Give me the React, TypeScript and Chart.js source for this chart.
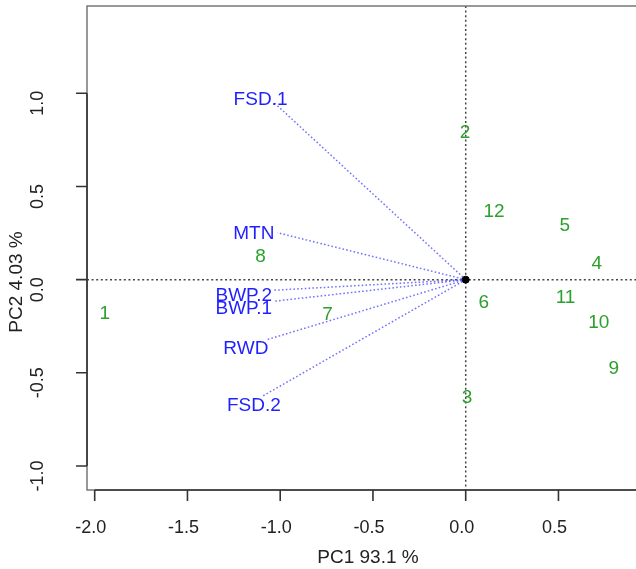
import React, { useEffect, useRef } from 'react';
import { Chart, registerables } from 'chart.js';
Chart.register(...registerables);

// Observations (scores)
const obsLabels = ['1', '2', '3', '4', '5', '6', '7', '8', '9', '10', '11', '12'];
const obsPC1 = [-1.945, -0.004, 0.007, 0.706, 0.534, 0.098, -0.745, -1.106, 0.798, 0.717, 0.538, 0.153];
const obsPC2 = [-0.177, 0.793, -0.627, 0.091, 0.295, -0.118, -0.182, 0.129, -0.471, -0.225, -0.091, 0.37];

// Variables (loadings)
const varLabels = ['FSD.1', 'MTN', 'BWP.2', 'BWP.1', 'RWD', 'FSD.2'];
const varTipX = [-1.031, -1.015, -1.04, -1.035, -1.068, -1.095];
const varTipY = [0.948, 0.252, -0.057, -0.116, -0.321, -0.625];
const varLabelX = [-1.106, -1.142, -1.196, -1.196, -1.185, -1.142];
const varLabelY = [0.969, 0.252, -0.08, -0.15, -0.366, -0.672];

const xTicks = [-2.0, -1.5, -1.0, -0.5, 0.0, 0.5];
const yTicks = [-1.0, -0.5, 0.0, 0.5, 1.0];
const xTitle = 'PC1 93.1 %';
const yTitle = 'PC2 4.03 %';

const FONT = '"Liberation Sans", Arial, Helvetica, sans-serif';
const GREEN = '#2ca02c';
const BLUE = '#1f1fff';
const ARROW = 'rgba(90,90,255,0.85)';

const customPlugin = {
  id: 'biplotDecor',
  beforeDraw(chart: any) {
    const ctx = chart.ctx;
    ctx.save();
    ctx.fillStyle = '#ffffff';
    ctx.fillRect(0, 0, chart.width, chart.height);
    ctx.restore();
  },
  beforeDatasetsDraw(chart: any) {
    const ctx = chart.ctx;
    const a = chart.chartArea;
    const xs = chart.scales.x;
    const ys = chart.scales.y;
    ctx.save();
    // reference dotted lines
    ctx.strokeStyle = '#444';
    ctx.lineWidth = 1.5;
    ctx.setLineDash([2, 2.6]);
    const x0 = xs.getPixelForValue(0);
    const y0 = ys.getPixelForValue(0);
    ctx.beginPath();
    ctx.moveTo(x0, a.top);
    ctx.lineTo(x0, a.bottom);
    ctx.moveTo(a.left, y0);
    ctx.lineTo(a.right, y0);
    ctx.stroke();
    ctx.setLineDash([]);
    // box
    ctx.strokeStyle = '#777';
    ctx.lineWidth = 1.5;
    ctx.beginPath();
    ctx.moveTo(a.right + 20, a.top);
    ctx.lineTo(a.left, a.top);
    ctx.lineTo(a.left, a.bottom);
    ctx.lineTo(a.right + 20, a.bottom);
    ctx.stroke();
    // axis lines and ticks
    ctx.strokeStyle = '#333';
    ctx.lineWidth = 1.6;
    const xp = xTicks.map((v) => xs.getPixelForValue(v));
    const yp = yTicks.map((v) => ys.getPixelForValue(v));
    ctx.beginPath();
    ctx.moveTo(xp[0], a.bottom);
    ctx.lineTo(a.right, a.bottom);
    xp.forEach((p) => {
      ctx.moveTo(p, a.bottom);
      ctx.lineTo(p, a.bottom + 11);
    });
    ctx.moveTo(a.left, yp[0]);
    ctx.lineTo(a.left, yp[yp.length - 1]);
    yp.forEach((p) => {
      ctx.moveTo(a.left, p);
      ctx.lineTo(a.left - 11, p);
    });
    ctx.stroke();
    // tick labels
    ctx.fillStyle = '#222';
    ctx.font = `18px ${FONT}`;
    ctx.textAlign = 'center';
    ctx.textBaseline = 'middle';
    xTicks.forEach((v, i) => {
      ctx.fillText(v.toFixed(1), xp[i] - 4, 528);
    });
    yTicks.forEach((v, i) => {
      ctx.save();
      ctx.translate(38, yp[i] + 10);
      ctx.rotate(-Math.PI / 2);
      ctx.fillText(v.toFixed(1), 0, 0);
      ctx.restore();
    });
    // axis titles
    ctx.font = `19px ${FONT}`;
    ctx.fillText(xTitle, 368, 558);
    ctx.save();
    ctx.translate(17, 282);
    ctx.rotate(-Math.PI / 2);
    ctx.fillText(yTitle, 0, 0);
    ctx.restore();
    ctx.restore();
  },
  afterDatasetsDraw(chart: any) {
    const ctx = chart.ctx;
    ctx.save();
    ctx.font = `19px ${FONT}`;
    ctx.textAlign = 'center';
    ctx.textBaseline = 'middle';
    // observation labels
    const obsMeta = chart.getDatasetMeta(1);
    ctx.fillStyle = GREEN;
    obsMeta.data.forEach((pt: any, i: number) => {
      ctx.fillText(obsLabels[i], pt.x, pt.y + 1);
    });
    // variable labels
    const labMeta = chart.getDatasetMeta(2);
    ctx.fillStyle = BLUE;
    labMeta.data.forEach((pt: any, i: number) => {
      ctx.fillText(varLabels[i], pt.x, pt.y + 1);
    });
    ctx.restore();
  },
};

export default function App() {
  const ref = useRef<HTMLCanvasElement | null>(null);
  useEffect(() => {
    document.body.style.margin = '0';
    const canvas = ref.current;
    if (!canvas) return;
    const datasets: any[] = [
      {
        label: 'origin',
        data: [{ x: 0, y: 0 }],
        pointRadius: 3.5,
        pointBackgroundColor: '#000',
        pointBorderColor: '#000',
        showLine: false,
        clip: false,
      },
      {
        label: 'obs',
        data: obsPC1.map((x, i) => ({ x, y: obsPC2[i] })),
        pointRadius: 0,
        showLine: false,
      },
      {
        label: 'varLabels',
        data: varLabelX.map((x, i) => ({ x, y: varLabelY[i] })),
        pointRadius: 0,
        showLine: false,
      },
    ];
    varLabels.forEach((name, i) => {
      datasets.push({
        label: name,
        data: [
          { x: 0, y: 0 },
          { x: varTipX[i], y: varTipY[i] },
        ],
        showLine: true,
        borderColor: ARROW,
        borderWidth: 1.5,
        borderDash: [1.6, 2.2],
        pointRadius: 0,
        fill: false,
      });
    });
    const chart = new Chart(canvas, {
      type: 'scatter',
      data: { datasets },
      options: {
        animation: false,
        responsive: false,
        maintainAspectRatio: false,
        devicePixelRatio: 1,
        layout: { autoPadding: false, padding: { top: 6, right: 0, left: 0, bottom: 0 } },
        plugins: {
          legend: { display: false },
          tooltip: { enabled: false },
        },
        scales: {
          x: {
            type: 'linear',
            min: -2.0415,
            max: 0.918,
            grid: { display: false },
            border: { display: false },
            ticks: { display: false },
            afterFit: (s: any) => {
              s.height = 79;
              s.paddingLeft = 0;
              s.paddingRight = 0;
            },
          },
          y: {
            type: 'linear',
            min: -1.1288,
            max: 1.4685,
            grid: { display: false },
            border: { display: false },
            ticks: { display: false },
            afterFit: (s: any) => {
              s.width = 87;
              s.paddingTop = 0;
              s.paddingBottom = 0;
            },
          },
        },
      },
      plugins: [customPlugin],
    });
    return () => chart.destroy();
  }, []);
  return <canvas ref={ref} width={636} height={569} style={{ display: 'block' }} />;
}
